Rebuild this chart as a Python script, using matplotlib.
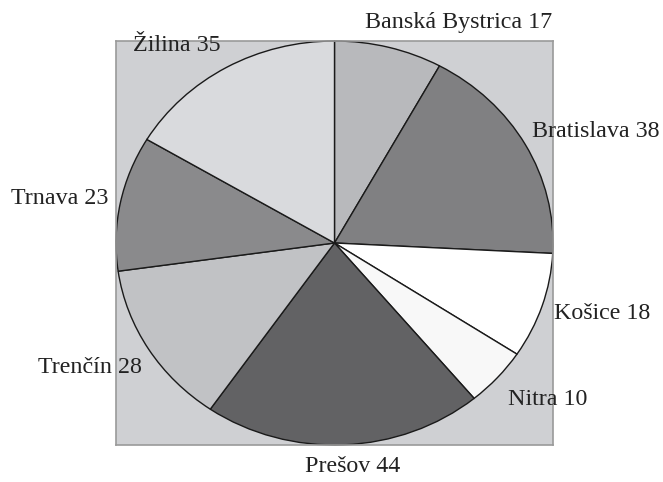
import matplotlib.pyplot as plt

regions = ["Banská Bystrica", "Bratislava", "Košice", "Nitra",
           "Prešov", "Trenčín", "Trnava", "Žilina"]
counts = [17, 38, 18, 10, 44, 28, 23, 35]
colors = ["#b8b9bc", "#808082", "#ffffff", "#f8f8f8",
          "#626264", "#c1c2c5", "#8a8a8c", "#d9dadd"]
# where each label sits, in axes data units (pie radius = 1)
label_pos = [(0.569, 1.094), (1.197, 0.550), (1.224, -0.350), (0.977, -0.777),
             (0.085, -1.104), (-1.119, -0.614), (-1.256, 0.218), (-0.720, 0.980)]

plt.rcParams['font.family'] = ['Liberation Serif', 'DejaVu Serif']

fig = plt.figure(figsize=(6.63, 4.82), dpi=100)
ax = fig.add_axes([116 / 663, 1 - 445 / 482, (553 - 116) / 663, (445 - 41) / 482])

ax.pie(counts, colors=colors, startangle=90, counterclock=False, radius=1,
       wedgeprops=dict(edgecolor="#1a1a1a", linewidth=1.0))
ax.set_aspect('auto')
ax.set_xlim(-1, 1)
ax.set_ylim(-1, 1)
ax.set_frame_on(True)
ax.set_facecolor("#cfd0d3")
for s in ax.spines.values():
    s.set_color("#9a9a9a")
    s.set_linewidth(1.2)
ax.set_xticks([])
ax.set_yticks([])

for name, n, (x, y) in zip(regions, counts, label_pos):
    ax.text(x, y, f"{name} {n}", ha="center", va="center",
            fontsize=17.3, color="#222222", clip_on=False)

fig.savefig("out.png", dpi=100)
